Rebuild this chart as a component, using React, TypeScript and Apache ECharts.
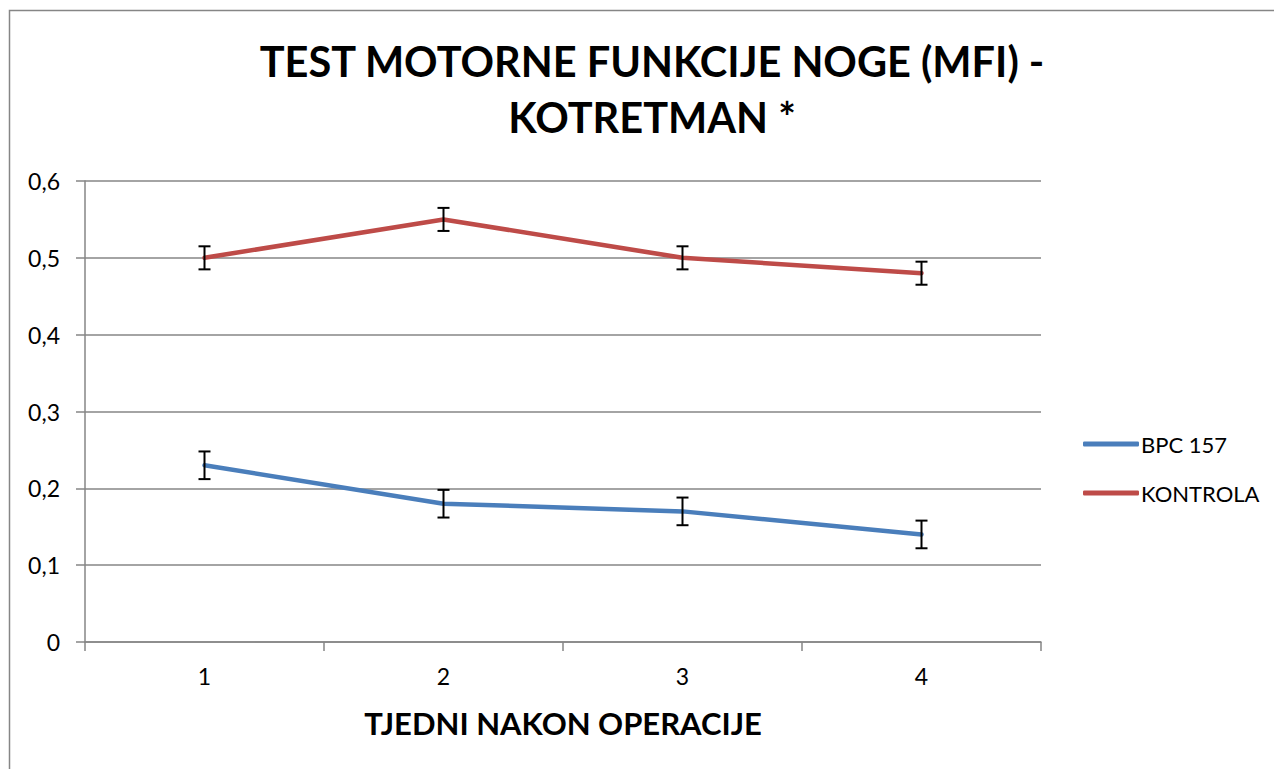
import React, { useEffect, useRef } from "react";
import * as echarts from "echarts";

const categories = ["1", "2", "3", "4"];
const bpcValues = [0.23, 0.18, 0.17, 0.14];
const bpcErrors = [0.018, 0.018, 0.018, 0.018];
const kontrolaValues = [0.5, 0.55, 0.5, 0.48];
const kontrolaErrors = [0.015, 0.015, 0.015, 0.015];
const yTicks = { min: 0, max: 0.6, interval: 0.1 };

const FONT = "Lato, 'Liberation Sans', sans-serif";

function errorData(values: number[], errs: number[]) {
  return values.map((v, i) => [i, v - errs[i], v + errs[i]]);
}

function renderErrorBar(params: any, api: any) {
  const lo = api.coord([api.value(0), api.value(1)]);
  const hi = api.coord([api.value(0), api.value(2)]);
  const half = 6;
  const style = { stroke: "#000", lineWidth: 2 };
  return {
    type: "group",
    children: [
      { type: "line", shape: { x1: lo[0], y1: lo[1], x2: hi[0], y2: hi[1] }, style },
      { type: "line", shape: { x1: lo[0] - half, y1: lo[1], x2: lo[0] + half, y2: lo[1] }, style },
      { type: "line", shape: { x1: hi[0] - half, y1: hi[1], x2: hi[0] + half, y2: hi[1] }, style },
    ],
  };
}

export default function App() {
  const ref = useRef<HTMLDivElement>(null);
  useEffect(() => {
    if (!ref.current) return;
    const chart = echarts.init(ref.current, null, { renderer: "svg" });
    chart.setOption({
      animation: false,
      backgroundColor: "#fff",
      title: {
        text: "TEST MOTORNE FUNKCIJE NOGE (MFI) -\nKOTRETMAN *",
        left: 647,
        textAlign: "center",
        top: 28,
        textStyle: {
          fontFamily: FONT,
          fontWeight: "bold",
          fontSize: 41.5,
          lineHeight: 56,
          color: "#000",
        },
      },
      graphic: [
        {
          type: "rect",
          shape: { x: 9.5, y: 10.5, width: 1300, height: 800 },
          style: { fill: "none", stroke: "#868686", lineWidth: 1.5 },
          silent: true,
        },
      ],
      legend: {
        orient: "vertical",
        left: 1078,
        top: 428,
        itemGap: 27,
        itemWidth: 56,
        itemHeight: 5,
        icon: "roundRect",
        data: ["BPC 157", "KONTROLA"],
        textStyle: { fontFamily: FONT, fontSize: 22, color: "#000", padding: [0, 0, 0, -3] },
      },
      grid: {
        left: 85,
        right: 233,
        top: 181,
        bottom: 127,
        containLabel: false,
        outerBoundsMode: "none",
      },
      xAxis: {
        type: "category",
        data: categories,
        boundaryGap: true,
        name: "TJEDNI NAKON OPERACIJE",
        nameLocation: "middle",
        nameGap: 65,
        nameTextStyle: { fontFamily: FONT, fontWeight: "bold", fontSize: 31, color: "#000" },
        axisLine: { lineStyle: { color: "#868686", width: 1.5 } },
        axisTick: { show: true, length: 9, alignWithLabel: false, lineStyle: { color: "#868686", width: 1.5 } },
        axisLabel: { fontFamily: FONT, fontSize: 23, color: "#000", margin: 22 },
        splitLine: { show: false },
      },
      yAxis: {
        type: "value",
        min: yTicks.min,
        max: yTicks.max,
        interval: yTicks.interval,
        axisLine: { show: true, lineStyle: { color: "#868686", width: 1.5 } },
        axisTick: { show: true, length: 9, lineStyle: { color: "#868686", width: 1.5 } },
        axisLabel: {
          fontFamily: FONT,
          fontSize: 23,
          color: "#000",
          margin: 25,
          formatter: (v: number) => (Math.round(v * 10) / 10).toString().replace(".", ","),
        },
        splitLine: { show: true, lineStyle: { color: "#868686", width: 1.5 } },
      },
      series: [
        {
          name: "BPC 157",
          type: "line",
          data: bpcValues,
          symbol: "none",
          itemStyle: { color: "#4A7EBB" },
          lineStyle: { color: "#4A7EBB", width: 4.5, cap: "round" },
          z: 3,
        },
        {
          name: "KONTROLA",
          type: "line",
          data: kontrolaValues,
          symbol: "none",
          itemStyle: { color: "#BE4B48" },
          lineStyle: { color: "#BE4B48", width: 4.5, cap: "round" },
          z: 3,
        },
        {
          name: "BPC 157 err",
          type: "custom",
          data: errorData(bpcValues, bpcErrors),
          renderItem: renderErrorBar,
          encode: { x: 0, y: [1, 2] },
          z: 5,
        },
        {
          name: "KONTROLA err",
          type: "custom",
          data: errorData(kontrolaValues, kontrolaErrors),
          renderItem: renderErrorBar,
          encode: { x: 0, y: [1, 2] },
          z: 5,
        },
      ],
    });
    return () => chart.dispose();
  }, []);
  return (
    <div
      ref={ref}
      style={{ position: "absolute", left: 0, top: 0, width: 1274, height: 769 }}
    />
  );
}
